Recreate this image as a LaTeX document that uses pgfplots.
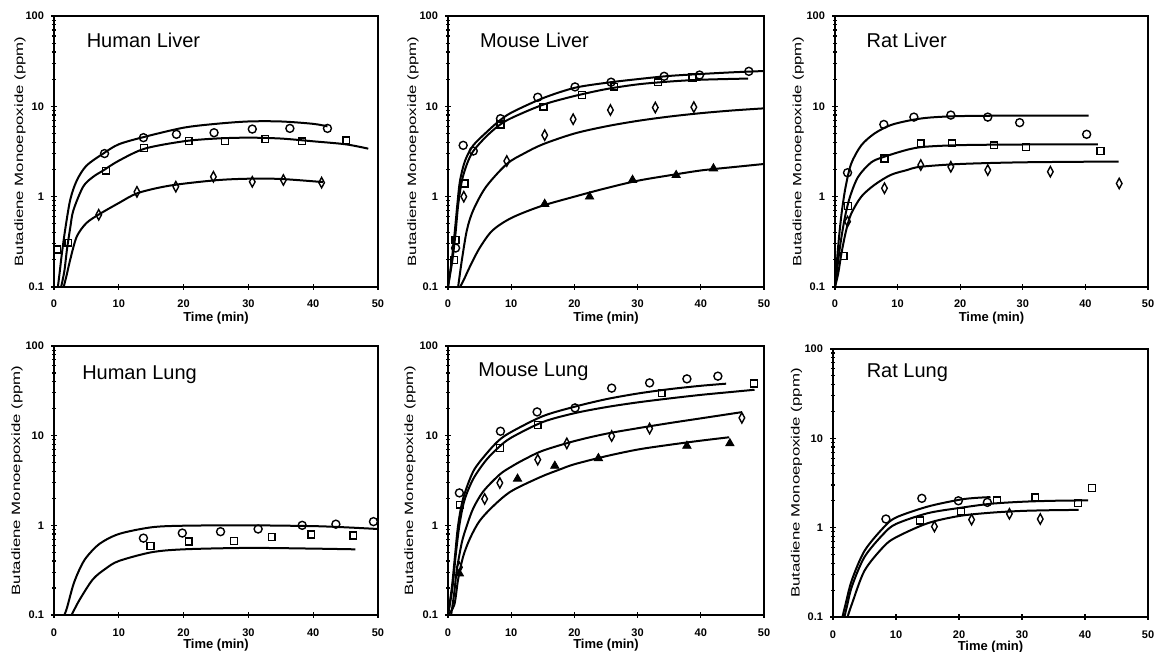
\documentclass[border=0pt]{standalone}
\usepackage{fontspec}
\setmainfont{Liberation Sans}
\usepackage{graphicx}
\usepackage{pgfplots}
\pgfplotsset{compat=1.18}

\newcommand\tickfont{\bfseries\fontsize{5.5}{6}\selectfont}
\newcommand\xlabfont{\bfseries\fontsize{6.5}{7.5}\selectfont}
\newcommand\titlefont{\fontsize{10}{12}\selectfont}

\tikzset{ttl/.style={anchor=base west, inner sep=0pt, font=\titlefont}}

\pgfplotsset{
  panel/.style={
    scale only axis,
    xmin=0, xmax=50, ymin=0.1, ymax=100,
    axis line style={line width=0.8pt},
    xtick={0,10,20,30,40,50},
    xticklabels={0,10,20,30,40,50},
    ytick={0.1,1,10,100},
    yticklabels={0.1,1,10,100},
    minor ytick={0.2,0.3,0.4,0.5,0.6,0.7,0.8,0.9,2,3,4,5,6,7,8,9,20,30,40,50,60,70,80,90},
    xtick pos=bottom, ytick pos=left,
    tick align=center,
    major tick length=3pt,
    minor tick length=2pt,
    every tick/.style={black, line width=0.6pt},
    tick label style={font=\tickfont},
    x tick label style={yshift=-1.5pt},
    xlabel={Time (min)},
    every axis x label/.style={at={(axis description cs:0.5,0)}, anchor=center, yshift=-15.5pt, font=\xlabfont},
    ylabel={\scalebox{1.4}[1]{Butadiene Monoepoxide (ppm)}},
    clip=true,
  },
  lowrow/.style={x tick label style={yshift=-0.5pt}, every axis x label/.append style={yshift=0.5pt}},
  ylab/.style={every axis y label/.style={at={(axis description cs:#1,0.5)}, rotate=90, anchor=center, font=\fontsize{6}{7}\selectfont}},
  fit/.style={black, no marks, smooth, line width=1pt},
  circ/.style={black, only marks, mark=o, mark size=2pt, line width=0.7pt},
  sq/.style={black, only marks, mark=square, mark size=1.7pt, line width=0.7pt},
  dia/.style={black, only marks, mark=diamond, mark size=2.6pt, mark options={xscale=0.72}, line width=0.7pt},
  tri/.style={black, only marks, mark=triangle*, mark size=2.4pt, mark options={fill=black}},
}

\begin{document}
\begin{tikzpicture}
\path[use as bounding box] (0,0) rectangle (577.5pt,-326pt);

% ---------------- Human Liver ----------------
\begin{semilogyaxis}[panel, ylab=-0.105, at={(27pt,-8pt)}, anchor=north west, width=162pt, height=135.5pt]
\addplot[fit] coordinates {(0.6,0.1)(0.9,0.15)(1.2,0.23)(1.7,0.42)(2.5,0.92)(3.5,1.5)(5,2.2)(7.6,3.0)(10,3.8)(14,4.6)(20,5.8)(25,6.4)(30,6.8)(35,6.8)(40,6.4)(42.2,6.0)};
\addplot[fit] coordinates {(1.1,0.1)(1.6,0.15)(2,0.26)(2.5,0.45)(3,0.71)(4.5,1.29)(6,1.65)(7.6,1.95)(10,2.5)(14,3.4)(20,4.1)(25,4.4)(30,4.5)(35,4.4)(40,4.1)(45,3.8)(48.5,3.4)};
\addplot[fit] coordinates {(1.5,0.1)(2,0.14)(2.5,0.2)(3.5,0.36)(5,0.51)(7,0.64)(10,0.85)(13,1.1)(18,1.33)(25,1.52)(30,1.58)(35,1.57)(41.5,1.45)};
\addplot[circ] coordinates {(7.8,3.0)(13.8,4.5)(18.9,4.9)(24.7,5.1)(30.6,5.6)(36.4,5.7)(42.2,5.7)};
\addplot[sq] coordinates {(0.5,0.26)(2.2,0.31)(8.0,1.94)(13.9,3.45)(20.8,4.15)(26.4,4.1)(32.6,4.37)(38.3,4.1)(45.1,4.2)};
\addplot[dia] coordinates {(6.9,0.63)(12.8,1.13)(18.8,1.29)(24.6,1.66)(30.6,1.46)(35.4,1.53)(41.3,1.43)};
\node[ttl] at (rel axis cs:0.10,0.885) {Human Liver};
\end{semilogyaxis}

% ---------------- Mouse Liver ----------------
\begin{semilogyaxis}[panel, ylab=-0.111, at={(224pt,-8pt)}, anchor=north west, width=158pt, height=135.5pt]
\addplot[fit] coordinates {(0,0.1)(0.6,0.2)(1.1,0.43)(1.5,0.85)(1.9,1.5)(2.7,2.5)(4,3.7)(6,5.1)(8,6.8)(10,8.5)(15,12.3)(20,16.0)(25,18.2)(30,20.0)(35,21.7)(40,22.8)(45,23.8)(50,24.6)};
\addplot[fit] coordinates {(0,0.1)(0.7,0.2)(1.2,0.4)(1.6,0.8)(2.2,1.5)(3,2.3)(4,3.2)(6,4.6)(8,6.1)(10,7.4)(15,10.4)(20,13.0)(25,15.5)(30,17.5)(35,18.8)(40,19.7)(47.5,20.3)};
\addplot[fit] coordinates {(1.6,0.1)(2.2,0.2)(3,0.43)(4,0.71)(6,1.28)(9.3,2.3)(12,3.0)(15,3.8)(20,5.0)(25,6.0)(30,6.9)(35,7.7)(40,8.4)(45,9.0)(50,9.5)};
\addplot[fit] coordinates {(1.9,0.1)(2.5,0.12)(3.5,0.17)(5,0.27)(7,0.42)(10,0.58)(14.6,0.78)(20,1.0)(25,1.24)(30,1.5)(35,1.72)(40,1.95)(45,2.12)(50,2.3)};
\addplot[circ] coordinates {(1.2,0.27)(2.4,3.7)(4.0,3.2)(8.3,7.3)(14.2,12.6)(20.1,16.4)(25.8,18.5)(34.2,21.5)(39.8,22.2)(47.6,24.4)};
\addplot[sq] coordinates {(1.0,0.2)(1.2,0.33)(2.6,1.4)(8.3,6.3)(15.1,9.9)(21.2,13.3)(26.3,16.5)(33.2,18.5)(38.7,20.9)};
\addplot[dia] coordinates {(2.5,1.0)(9.3,2.48)(15.3,4.8)(19.8,7.2)(25.7,9.1)(32.8,9.7)(38.9,9.8)};
\addplot[tri] coordinates {(15.3,0.83)(22.4,1.0)(29.2,1.53)(36.1,1.73)(42.0,2.05)};
\node[ttl] at (rel axis cs:0.10,0.885) {Mouse Liver};
\end{semilogyaxis}

% ---------------- Rat Liver ----------------
\begin{semilogyaxis}[panel, ylab=-0.117, at={(417.5pt,-8pt)}, anchor=north west, width=156.5pt, height=135.5pt]
\addplot[fit] coordinates {(0,0.1)(0.5,0.28)(1.05,0.65)(1.7,1.29)(2.6,2.33)(4.2,3.7)(6.3,5.0)(8.9,6.2)(12,7.0)(15,7.5)(20,7.8)(30,7.9)(40.5,7.9)};
\addplot[fit] coordinates {(0,0.1)(0.8,0.28)(1.6,0.6)(2.4,1.0)(3.7,1.66)(5.8,2.4)(7.9,2.77)(11.5,3.3)(14.2,3.56)(20,3.72)(30,3.78)(42,3.78)};
\addplot[fit] coordinates {(0,0.1)(0.5,0.14)(1.05,0.24)(1.8,0.43)(2.6,0.65)(4.2,1.0)(6.3,1.35)(8.9,1.74)(11.5,1.97)(13.6,2.14)(20,2.3)(30,2.4)(45.3,2.45)};
\addplot[circ] coordinates {(2.0,1.84)(7.8,6.3)(12.6,7.6)(18.5,8.0)(24.4,7.6)(29.5,6.6)(40.2,4.9)};
\addplot[sq] coordinates {(1.4,0.22)(2.1,0.79)(7.9,2.65)(13.7,3.9)(18.7,3.9)(25.4,3.7)(30.5,3.56)(42.4,3.2)};
\addplot[dia] coordinates {(2.0,0.53)(7.9,1.24)(13.7,2.24)(18.5,2.14)(24.4,1.97)(34.4,1.89)(45.4,1.40)};
\node[ttl] at (rel axis cs:0.10,0.885) {Rat Liver};
\end{semilogyaxis}

% ---------------- Human Lung ----------------
\begin{semilogyaxis}[panel, lowrow, ylab=-0.114, at={(27pt,-173pt)}, anchor=north west, width=162pt, height=134.5pt]
\addplot[fit] coordinates {(1.6,0.1)(2,0.12)(3,0.22)(4,0.33)(5,0.44)(7,0.62)(10,0.8)(15,0.95)(20,0.99)(30,1.0)(40,0.98)(45,0.95)(50,0.91)};
\addplot[fit] coordinates {(2.7,0.1)(3,0.11)(4,0.15)(6,0.25)(8,0.33)(10,0.40)(15,0.5)(20,0.54)(30,0.56)(40,0.55)(46.5,0.54)};
\addplot[circ] coordinates {(13.8,0.72)(19.8,0.82)(25.7,0.85)(31.5,0.91)(38.3,1.0)(43.5,1.03)(49.3,1.1)};
\addplot[sq] coordinates {(14.9,0.59)(20.8,0.66)(27.8,0.67)(33.6,0.74)(39.7,0.79)(46.2,0.77)};
\node[ttl] at (rel axis cs:0.086,0.877) {Human Lung};
\end{semilogyaxis}

% ---------------- Mouse Lung ----------------
\begin{semilogyaxis}[panel, lowrow, ylab=-0.12, at={(224pt,-173pt)}, anchor=north west, width=158pt, height=134.5pt]
\addplot[fit] coordinates {(0,0.1)(0.6,0.2)(1.1,0.45)(1.6,1.0)(2.4,2.0)(4,4.0)(6,6.2)(8,8.8)(10,11.0)(15,16.5)(20,21)(25,25.5)(30,29.5)(35,33)(40,36)(44,38)};
\addplot[fit] coordinates {(0,0.1)(0.7,0.2)(1.2,0.45)(1.8,1.0)(2.6,1.9)(4,3.3)(6,5.3)(8,7.4)(10,9.5)(15,14.2)(20,17.8)(25,20.8)(30,23.5)(35,26)(40,28.5)(45,30.8)(48.5,32.5)};
\addplot[fit] coordinates {(0.5,0.1)(1,0.18)(1.4,0.32)(2.2,0.65)(3,1.0)(4,1.55)(5.6,2.4)(8.2,3.7)(10,4.5)(12,5.4)(15,6.8)(20,8.7)(25,10.5)(30,12.1)(35,13.8)(40,15.6)(46.5,18.3)};
\addplot[fit] coordinates {(0,0.1)(1,0.13)(1.6,0.25)(2.4,0.45)(3.5,0.72)(5,1.12)(7.2,1.65)(10,2.4)(14.6,3.45)(17.7,4.2)(20,4.8)(25,5.9)(30,7.0)(35,7.9)(40,8.8)(44.5,9.6)};
\addplot[circ] coordinates {(1.8,2.3)(8.3,11.2)(14.1,18.4)(20.1,20.4)(25.9,33.9)(31.9,38.8)(37.8,43)(42.7,46.1)};
\addplot[sq] coordinates {(1.9,1.7)(8.2,7.3)(14.2,13.1)(33.8,30)(48.4,38.2)};
\addplot[dia] coordinates {(1.8,0.34)(5.8,1.97)(8.2,2.97)(14.2,5.4)(18.8,8.2)(25.9,9.9)(31.9,12.0)(46.5,15.8)};
\addplot[tri] coordinates {(1.8,0.29)(11.0,3.3)(16.9,4.6)(23.8,5.6)(37.8,7.7)(44.6,8.2)};
\node[ttl] at (rel axis cs:0.095,0.888) {Mouse Lung};
\end{semilogyaxis}

% ---------------- Rat Lung ----------------
\begin{semilogyaxis}[panel, lowrow, ylab=-0.116, at={(416.5pt,-174.5pt)}, anchor=north west, width=157.5pt, height=134pt]
\addplot[fit] coordinates {(1.5,0.1)(2,0.14)(3,0.26)(5,0.55)(8,1.0)(10,1.3)(15,1.72)(20,2.05)(22.5,2.15)(25,2.2)};
\addplot[fit] coordinates {(1.8,0.1)(2.2,0.13)(3,0.22)(5,0.47)(8,0.85)(10,1.1)(15,1.45)(20,1.66)(25,1.85)(30,1.95)(35,2.0)(40.5,2.02)};
\addplot[fit] coordinates {(2.3,0.1)(3,0.14)(5,0.33)(8,0.61)(10,0.78)(15,1.12)(20,1.35)(25,1.47)(30,1.54)(35,1.57)(39,1.58)};
\addplot[circ] coordinates {(8.4,1.25)(14.1,2.13)(19.9,2.0)(24.5,1.92)};
\addplot[sq] coordinates {(13.8,1.2)(20.3,1.52)(26.0,2.02)(32.1,2.19)(38.9,1.89)(41.1,2.78)};
\addplot[dia] coordinates {(16.1,1.03)(22.0,1.23)(28.0,1.43)(32.9,1.25)};
\node[ttl] at (rel axis cs:0.106,0.892) {Rat Lung};
\end{semilogyaxis}
\end{tikzpicture}
\end{document}
